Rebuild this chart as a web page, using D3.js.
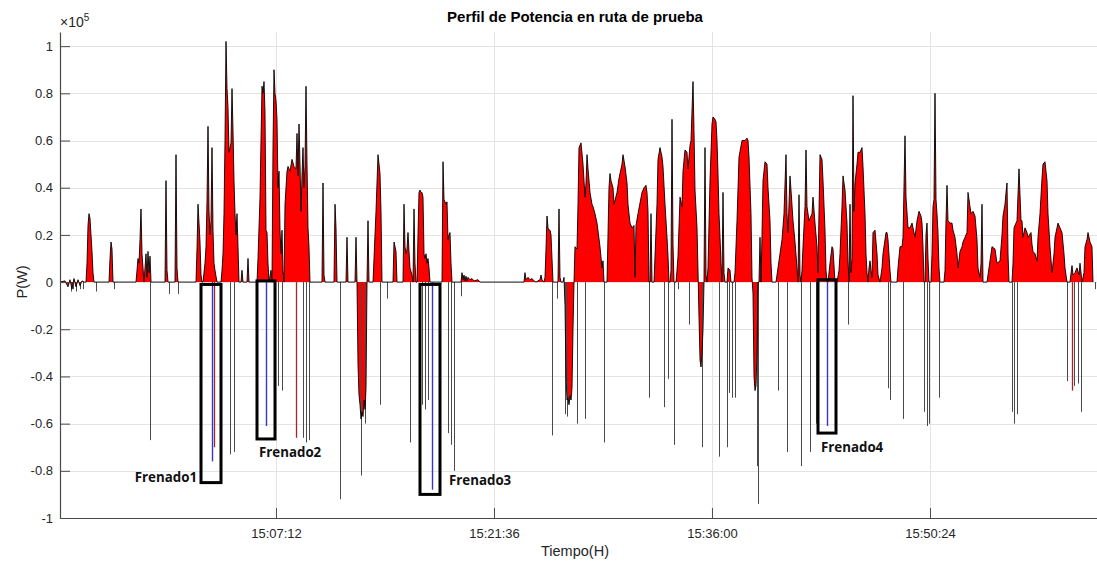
<!DOCTYPE html>
<html>
<head>
<meta charset="utf-8">
<script src="https://cdn.jsdelivr.net/npm/d3@7"></script>
<style>
  html, body { margin: 0; padding: 0; background: #fff; }
  svg { display: block; font-family: "Liberation Sans", Arial, Helvetica, sans-serif; }
</style>
</head>
<body>
<svg id="chart" width="1097" height="561"></svg>
<script>
// ---- Registro de potencia (muestra n, kW) ----------------------------------
// Primer tramo de la ruta: arranques y frenadas en zona urbana
const potenciaTramo1 = [
  [0,0],[5,0.5],[8,-2],[10,1],[12,-3],[14,1.5],[16,-2],[18,1],[20,-1.5],[22,0.5],[24,0],
  [26,0],[27,8],[28,24],[29,29],[30,27],[31,20],[32,13],[33,4],[34,0],
  [49,0],[50,10],[51,17],[52,14],[53,0],
  [76,0],[77,5],[78,10],[79,8],[80,18],[81,31],[82,12],[83,6],[84,0],
  [86,12],[87,2],[88,13],[89,4],[90,11],[91,0],
  [105,0],[106,43],[107,5],[108,0],
  [115,0],[116,54],[117,6],[118,0],
  [136,0],[137,14],[138,33],[139,25],[140,17],[141,3],[142,0],
  [143,0],[145,8],[146,15],[147,34],[148,66],[149,30],[150,20],[151,26],[152,57],[153,22],[154,8],[155,5],[157,0],
  [161,0],[162,5],[163,12],[164,29],[165,60],[166,102],[167,82],[168,74],[169,55],[170,57],[171,59],[172,82],[173,64],[174,43],[175,29],[176,20],[177,29],[178,15],[179,0],
  [181,0],[182,5],[183,0],[187,0],[188,10],[189,0],
  [197,0],[198,10],[200,36],[201,60],[202,83],[203,80],[204,85],[205,72],[206,22],[207,21],[208,8],[209,0],[211,5],[212,0],
  [213,57],[214,90],[215,80],[216,77],[217,69],[218,40],[219,47],[220,22],[221,12],[222,22],[223,5],[224,0],
  [225,33],[227,47],[228,49],[230,47],[232,52],[234,49],[236,48],[237,63],[238,45],[239,67],[240,50],[241,30],[242,45],[243,57],[244,40],[245,49],[246,83],[247,50],[248,23],[249,15],[250,0],
  [262,0],[263,42],[264,3],[265,0],
  [274,0],[275,33],[276,23],[277,0],
  [286,0],[287,19],[288,0],
  [295,0],[296,19],[297,0],[298,-35],[299,-48],[300,-52],[301,-58],[302,-55],[303,-57],[304,-50],[305,-54],[306,-45],[307,0],[308,26],[309,0],
  [313,0],[314,10],[316,30],[317,42],[318,54],[319,50],[320,46],[321,30],[322,0],
  [333,0],[334,17],[335,15],[336,13],[337,0],
  [343,0],[344,33],[345,15],[346,12],[347,14],[348,21],[349,13],[350,6],[352,3],[353,0],[354,31],[355,8],[356,0],
  [357,0],[358,20],[359,38],[360,39],[361,38],[362,38],[363,36],[364,12],[365,10],[366,12],[367,8],[368,10],[369,6],[370,0],
  [382,0],[383,51],[384,35],[385,34],[386,33],[387,34],[388,18],[389,20],[390,21],[391,8],[392,0],
  [401,0],[402,4],[403,1],[404,3],[405,0.5],[406,2.5],[407,0.5],[408,2],[410,1],[412,1.5],[414,0.5],[418,1],[420,0]
];

// Segundo tramo: recorrido continuo con demanda sostenida
const potenciaTramo2 = [
  [460,0],[464,0],[465,4],[466,1],[468,2],[470,1],[472,1.5],[474,0.5],[476,0],[480,1],[481,3],[482,1],[484,0],
  [485,2],[486,14],[487,28],[488,23],[489,22],[490,22],[491,20],[492,10],[493,0],
  [498,0],[499,31],[500,2],[501,0],
  [503,0],[504,2],[505,-10],[506,-40],[507,-50],[508,-49],[509,-52],[510,-48],[511,-50],[512,-45],[513,-20],[514,0],
  [515,15],[517,14],[518,33],[519,57],[521,59],[523,50],[525,36],[526,42],[527,54],[528,48],[530,38],[532,33],[533,32],[535,29],[537,25],[540,15],[542,6],[543,9],[544,0],
  [547,0],[548,20],[549,40],[550,46],[551,43],[553,40],[554,33],[557,38],[559,44],[562,50],[563,54],[565,49],[567,42],[568,33],[570,25],[572,23],[574,24],[575,2],[576,24],[578,29],[582,38],[584,40],[586,41],[587,38],[588,30],[589,0],
  [590,0],[591,29],[592,0],
  [594,0],[595,11],[597,33],[598,52],[600,57],[602,53],[603,49],[605,33],[607,19],[608,11],[609,0],
  [610,0],[611,5],[612,69],[613,16],[614,0],
  [616,0],[617,5],[618,11],[620,36],[622,32],[623,47],[625,56],[627,55],[628,48],[630,58],[631,60],[633,85],[634,64],[635,39],[637,23],[638,5],
  [639,-15],[640,-33],[641,-36],[642,-30],[643,-20],[644,0],
  [645,57],[646,3],[647,0],
  [648,6],[650,43],[652,67],[653,70],[655,69],[656,68],[657,60],[658,46],[659,29],[660,19],[661,8],[662,0],
  [663,38],[664,4],[665,0],
  [667,0],[668,6],[670,5],[671,0],
  [674,0],[675,4],[677,26],[679,53],[682,60],[685,60],[687,61],[688,60],[689,53],[691,29],[692,2],
  [693,-5],[694,-40],[695,-46],[696,-44],[697,-30],[698,0],
  [699,0],[700,19],[701,0],
  [702,20],[703,43],[705,51],[707,50],[708,40],[710,26],[711,8],[712,0],
  [716,0],[718,6],[722,18],[724,29],[726,54],[727,29],[728,21],[730,45],[731,39],[733,26],[735,17],[737,6],[738,0],
  [739,37],[740,3],[741,0],
  [742,5],[743,15],[745,32],[746,56],[747,32],[749,26],[752,29],[753,36],[755,25],[757,15],[758,4],
  [759,30],[760,54],[762,52],[763,43],[765,22],[766,5],[767,0],
  [768,0],[770,8],[772,15],[773,14],[775,0],
  [777,0],[779,5],[780,12],[782,32],[783,45],[785,39],[787,25],[788,9],[789,0],
  [790,33],[791,4],[792,10],[793,79],[794,30],[795,42],[797,50],[798,55],[800,55],[802,57],[803,49],[805,29],[806,12],[807,4],[808,0],
  [809,6],[810,9],[811,5],[812,2],[813,21],[815,22],[817,12],[818,3],[820,0],[822,6],[823,12],[826,21],[827,21],[828,18],[830,5],[831,0],
  [837,0],[838,6],[840,15],[842,15],[843,19],[845,62],[846,36],[848,23],[850,23],[852,25],[853,23],[855,19],[857,26],[859,30],[861,28],[862,25],[863,15],[864,0],
  [865,0],[866,20],[867,25],[868,10],[869,0],
  [871,0],[872,12],[873,32],[874,35],[875,80],[876,35],[877,29],[878,21],[879,6],[880,0],
  [884,0],[885,5],[886,26],[887,41],[888,26],[890,25],[892,25],[893,22],[895,19],[897,12],[898,6],[900,13],[902,15],[903,17],[905,19],[907,21],[908,38],[910,32],[911,29],[913,30],[915,28],[917,18],[918,6],[920,2],[921,8],[922,33],[923,0],
  [927,0],[929,6],[932,15],[935,14],[937,8],[940,9],[942,20],[943,28],[945,33],[946,38],[947,42],[948,12],[949,0],
  [952,0],[953,8],[954,23],[957,26],[959,48],[961,26],[962,26],[963,19],[965,23],[967,21],[968,19],[971,21],[972,16],[973,13],[975,12],[977,9],[978,19],[980,29],[982,44],[983,50],[985,51],[986,47],[987,43],[988,29],[990,15],[992,4],[994,12],[995,19],[998,25],[1000,23],[1002,21],[1004,12],[1005,6],[1007,0],
  [1010,0],[1012,7],[1013,3],[1015,4],[1017,6],[1019,3],[1020,8],[1022,0],[1024,4],[1025,15],[1027,18],[1028,21],[1030,17],[1032,15],[1033,0]
];

// Picos de regeneración (muestra n, kW) registrados durante las frenadas
const regeneracion = [
  [11,-4],[13,-3],[16,-4],[20,-3],[23,-3],[36,-4],[54,-3],[90,-67],[109,-5],[118,-5],
  [170,-73],[174,-72],[218,-44],[222,-46],[243,-66],[246,-68],[249,-67],[280,-92],
  [301,-82],[305,-60],[320,-52],[327,-7],[350,-68],
  [362,-52],[365,-54],[368,-50],[388,-64],[391,-69],[394,-80],[401,-6],
  [492,-65],[497,-7],[505,-56],[507,-57],[517,-60],[525,-58],[544,-68],[589,-49],[604,-53],
  [608,-41],[614,-69],[618,-3],[629,-18],[642,-70],[659,-74],[667,-70],[669,-47],[672,-49],
  [675,-49],[697,-78],[698,-94],[718,-46],[727,-72],[741,-78],[750,-72],[756,-60],[788,-18],
  [828,-45],[830,-50],[843,-58],[864,-55],[867,-61],[869,-60],
  [879,-49],[952,-55],[954,-60],[957,-56],[1007,-42],[1014,-44],[1018,-43],
  [1021,-55],[1035,-3]
];
// Picos de regeneración que quedan dentro del relleno
const regeneracionRelleno = [[154,-70],[236,-66],[1012,-46]];

// Frenadas analizadas (muestra n, kW)
const frenadoNombres = ["Frenado1", "Frenado2", "Frenado3", "Frenado4"];
const frenadoMuestra = [152, 206, 372, 767];
const frenadoPotencia = [-76, -61, -88, -61];

// Ejes
const horaTicks = ["15:07:12", "15:21:36", "15:36:00", "15:50:24"];
const potenciaTicks = [-1, -0.8, -0.6, -0.4, -0.2, 0, 0.2, 0.4, 0.6, 0.8, 1]; // x 10^5 W

// ---- Escalas -----------------------------------------------------------------
const parseHora = d3.timeParse("%H:%M:%S");
const fmtHora = d3.timeFormat("%H:%M:%S");
const inicio = parseHora("14:52:56");
const periodo = 3.9633;               // s entre muestras del registrador
const tiempo = n => new Date(inicio.getTime() + n * periodo * 1000);

const m = { left: 60, right: 1097, top: 32, bottom: 518 };

const x = d3.scaleTime().domain([inicio, tiempo(1037)]).range([m.left, m.right]);
const y = d3.scaleLinear().domain([-1e5, 1.06e5]).range([m.bottom, m.top]);
// posición horizontal ajustada al centro del píxel para trazos de 1 px
const xPix = n => Math.round(x(tiempo(n))) + 0.5;

const svg = d3.select("#chart");

// ---- Rejilla -------------------------------------------------------------------
const grid = svg.append("g").attr("stroke", "#e3e3e3").attr("stroke-width", 1);
grid.selectAll("line.h").data(potenciaTicks).join("line")
  .attr("x1", m.left).attr("x2", m.right)
  .attr("y1", d => Math.round(y(d * 1e5)) + 0.5).attr("y2", d => Math.round(y(d * 1e5)) + 0.5);
grid.selectAll("line.v").data(horaTicks).join("line")
  .attr("x1", d => Math.round(x(parseHora(d))) + 0.5).attr("x2", d => Math.round(x(parseHora(d))) + 0.5)
  .attr("y1", m.top).attr("y2", m.bottom);

// ---- Serie de potencia -----------------------------------------------------------
const serie = potenciaTramo1.concat(potenciaTramo2).map(([n, kw]) => ({ t: tiempo(n), p: kw * 1000 }));

const area = d3.area().x(d => x(d.t)).y0(y(0)).y1(d => y(d.p));
const linea = d3.line().x(d => x(d.t)).y(d => y(d.p));

const plot = svg.append("g");

plot.append("path").datum(serie).attr("d", area).attr("fill", "#ff0000");

// regeneración: trazos verticales desde cero
plot.append("g").selectAll("line").data(regeneracionRelleno).join("line")
  .attr("x1", d => xPix(d[0])).attr("x2", d => xPix(d[0]))
  .attr("y1", y(0)).attr("y2", d => y(d[1] * 1000))
  .attr("stroke", "#a82222").attr("stroke-width", 1.3);

plot.append("g").selectAll("line").data(regeneracion).join("line")
  .attr("x1", d => xPix(d[0])).attr("x2", d => xPix(d[0]))
  .attr("y1", y(0)).attr("y2", d => y(d[1] * 1000))
  .attr("stroke", "#4a4a4a").attr("stroke-width", 1);

plot.append("path").datum(serie).attr("d", linea)
  .attr("fill", "none").attr("stroke", "#000").attr("stroke-width", 0.9)
  .attr("stroke-linejoin", "round");

// frenadas analizadas (trazo azul)
plot.append("g").selectAll("line").data(frenadoMuestra).join("line")
  .attr("x1", d => xPix(d)).attr("x2", d => xPix(d))
  .attr("y1", y(0)).attr("y2", (d, i) => y(frenadoPotencia[i] * 1000))
  .attr("stroke", "#3535d0").attr("stroke-width", 1.4);

// ---- Ejes -----------------------------------------------------------------------
const axisColor = "#4a4a4a";
const gx = svg.append("g").attr("transform", `translate(0,${m.bottom})`)
  .call(d3.axisBottom(x).tickValues(horaTicks.map(parseHora)).tickFormat(fmtHora)
        .tickSizeInner(-10).tickSizeOuter(0).tickPadding(11));
const gy = svg.append("g").attr("transform", `translate(${m.left},0)`)
  .call(d3.axisLeft(y).tickValues(potenciaTicks.map(v => v * 1e5)).tickFormat(v => String(+(v / 1e5).toFixed(1)))
        .tickSizeInner(-10).tickSizeOuter(0).tickPadding(7));
[gx, gy].forEach(g => {
  g.select(".domain").attr("stroke", axisColor).attr("stroke-width", 1.2);
  g.selectAll(".tick line").attr("stroke", axisColor);
  g.selectAll("text").attr("fill", "#262626").attr("font-size", 13)
    .attr("font-family", "'Liberation Sans', Arial, sans-serif");
});

// exponente del eje
const exp = svg.append("text").attr("x", m.left).attr("y", 27).attr("fill", "#262626")
  .attr("font-size", 14);
exp.append("tspan").text("\u00d710");
exp.append("tspan").attr("dy", -6).attr("font-size", 10).text("5");

// ---- Títulos ----------------------------------------------------------------------
svg.append("text").attr("x", 575).attr("y", 22).attr("text-anchor", "middle")
  .attr("font-weight", "bold").attr("font-size", 15).attr("fill", "#000")
  .text("Perfil de Potencia en ruta de prueba");
svg.append("text").attr("x", 575).attr("y", 556).attr("text-anchor", "middle")
  .attr("font-size", 14.5).attr("fill", "#262626").text("Tiempo(H)");
svg.append("text").attr("transform", "translate(27,282) rotate(-90)").attr("text-anchor", "middle")
  .attr("font-size", 14.5).attr("fill", "#262626").text("P(W)");

// ---- Recuadros de las frenadas ------------------------------------------------------
// [muestra inicial, muestra final, kW superior, kW inferior]
const recuadros = [[141, 161, -1, -85], [197, 215, 0.5, -66.5], [360, 380, -1, -90], [758, 776, 1, -64]];
const etiquetas = [
  { n: 137, kw: -82.6, anchor: "end" },
  { n: 199, kw: -72, anchor: "start" },
  { n: 389, kw: -84, anchor: "start" },
  { n: 761, kw: -70, anchor: "start" }
];
const ann = svg.append("g");
ann.selectAll("rect").data(recuadros).join("rect")
  .attr("x", d => x(tiempo(d[0]))).attr("y", d => y(d[2] * 1000))
  .attr("width", d => x(tiempo(d[1])) - x(tiempo(d[0])))
  .attr("height", d => y(d[3] * 1000) - y(d[2] * 1000))
  .attr("fill", "none").attr("stroke", "#000").attr("stroke-width", 3);
ann.selectAll("text").data(etiquetas).join("text")
  .attr("x", d => x(tiempo(d.n))).attr("y", d => y(d.kw * 1000))
  .attr("dy", "0.35em").attr("text-anchor", d => d.anchor)
  .attr("font-family", "'Open Sans', sans-serif").attr("font-weight", "bold").attr("font-size", 13.3)
  .attr("fill", "#111").text((d, i) => frenadoNombres[i]);
</script>
</body>
</html>
